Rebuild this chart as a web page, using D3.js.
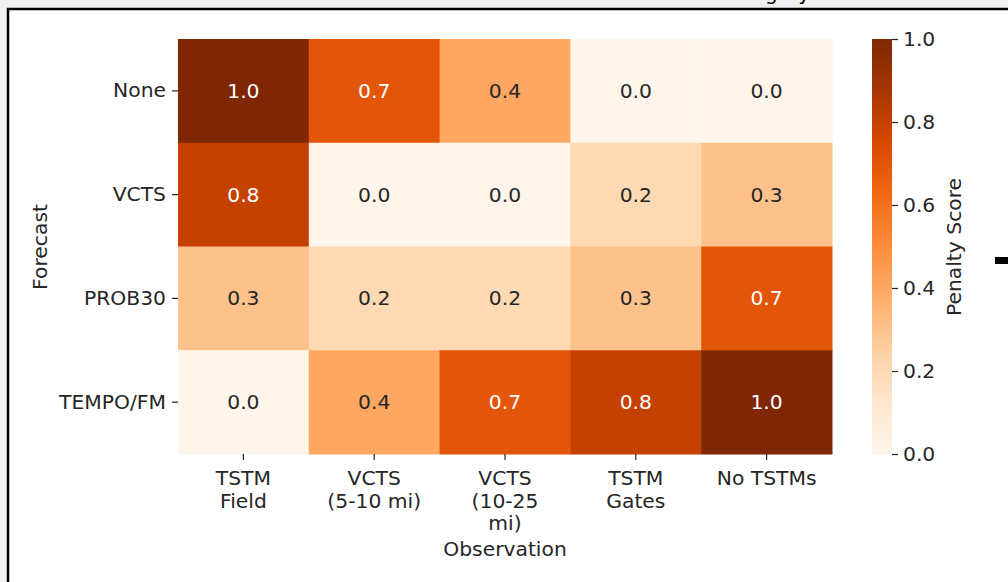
<!DOCTYPE html>
<html><head><meta charset="utf-8">
<script src="https://cdn.jsdelivr.net/npm/d3@7"></script>
<style>
html,body{margin:0;padding:0;background:#f0f0f0;}
svg{display:block;font-family:"DejaVu Sans",sans-serif;}
</style></head>
<body>
<svg id="chart" width="1008" height="582"></svg>
<script>
const forecasts = ["None", "VCTS", "PROB30", "TEMPO/FM"];
const observations = [["TSTM", "Field"], ["VCTS", "(5-10 mi)"], ["VCTS", "(10-25", "mi)"], ["TSTM", "Gates"], ["No TSTMs"]];
const valNone   = [1.0, 0.7, 0.4, 0.0, 0.0];
const valVCTS   = [0.8, 0.0, 0.0, 0.2, 0.3];
const valPROB30 = [0.3, 0.2, 0.2, 0.3, 0.7];
const valTEMPO  = [0.0, 0.4, 0.7, 0.8, 1.0];
const rows = [valNone, valVCTS, valPROB30, valTEMPO];
const cbTicks = [0.0, 0.2, 0.4, 0.6, 0.8, 1.0];
const orangeStops = ["#fff5eb","#fee6ce","#fdd0a2","#fdae6b","#fd8d3c","#f16913","#d94801","#a63603","#7f2704"];

const svg = d3.select("#chart");
const fs = 20.3;

// frame
svg.append("rect").attr("x", 8).attr("y", 9).attr("width", 1010).attr("height", 590)
  .attr("fill", "#fff").attr("stroke", "#000").attr("stroke-width", 2.5);
// partially visible title above frame
svg.append("text").attr("x", 810).attr("y", 0).attr("text-anchor", "end")
  .attr("font-size", 20).attr("fill", "#000").text("Category");
// dash at right
svg.append("rect").attr("x", 995).attr("y", 257).attr("width", 14).attr("height", 7).attr("fill", "#000");

const x = d3.scaleBand().domain(d3.range(observations.length)).range([178, 832]);
const y = d3.scaleBand().domain(forecasts).range([39, 454]);
const color = d3.scaleLinear().domain(d3.range(9).map(i => i / 8)).range(orangeStops).interpolate(d3.interpolateRgb);

const cells = [];
rows.forEach((r, i) => r.forEach((v, j) => cells.push({f: forecasts[i], j, v})));

svg.append("g").selectAll("rect").data(cells).join("rect")
  .attr("x", d => x(d.j)).attr("y", d => y(d.f))
  .attr("width", x.bandwidth() + 0.5).attr("height", y.bandwidth() + 0.5)
  .attr("fill", d => color(d.v));

function lum(c) {
  const rgb = d3.rgb(c);
  const f = u => { u /= 255; return u <= 0.03928 ? u / 12.92 : Math.pow((u + 0.055) / 1.055, 2.4); };
  return 0.2126 * f(rgb.r) + 0.7152 * f(rgb.g) + 0.0722 * f(rgb.b);
}
svg.append("g").selectAll("text").data(cells).join("text")
  .attr("x", d => x(d.j) + x.bandwidth() / 2).attr("y", d => y(d.f) + y.bandwidth() / 2)
  .attr("text-anchor", "middle").attr("dominant-baseline", "central")
  .attr("font-size", fs)
  .attr("fill", d => lum(color(d.v)) < 0.408 ? "#fff" : "#262626")
  .text(d => d.v.toFixed(1));

// y axis
const yAxis = svg.append("g").attr("transform", "translate(178,0)")
  .call(d3.axisLeft(y).tickSize(6).tickPadding(6));
yAxis.select(".domain").remove();
yAxis.selectAll("line").attr("stroke", "#262626").attr("stroke-width", 1.2);
yAxis.selectAll("text").attr("font-size", fs).attr("fill", "#262626").attr("font-family", "DejaVu Sans");

// x axis
const xAxis = svg.append("g").attr("transform", "translate(0,454)")
  .call(d3.axisBottom(x).tickSize(6).tickFormat(""));
xAxis.select(".domain").remove();
xAxis.selectAll("line").attr("stroke", "#262626").attr("stroke-width", 1.2);
xAxis.selectAll(".tick").each(function(d) {
  const t = d3.select(this).append("text").attr("text-anchor", "middle")
    .attr("font-size", fs).attr("fill", "#262626").attr("font-family", "DejaVu Sans");
  observations[d].forEach((line, k) => {
    t.append("tspan").attr("x", 0).attr("y", 31 + k * 22.5).text(line);
  });
});

svg.append("text").attr("x", 505).attr("y", 556).attr("text-anchor", "middle")
  .attr("font-size", fs).attr("fill", "#262626").text("Observation");
svg.append("text").attr("transform", "translate(47,247) rotate(-90)").attr("text-anchor", "middle")
  .attr("font-size", fs).attr("fill", "#262626").text("Forecast");

// colorbar
const defs = svg.append("defs");
const grad = defs.append("linearGradient").attr("id", "cbg").attr("x1", 0).attr("y1", 1).attr("x2", 0).attr("y2", 0);
orangeStops.forEach((c, i) => grad.append("stop").attr("offset", i / 8).attr("stop-color", c));
const cbY = d3.scaleLinear().domain([0, 1]).range([454, 39]);
svg.append("rect").attr("x", 872).attr("y", 39).attr("width", 20).attr("height", 415).attr("fill", "url(#cbg)");
const cbAxis = svg.append("g").attr("transform", "translate(892,0)")
  .call(d3.axisRight(cbY).tickValues(cbTicks).tickFormat(d3.format(".1f")).tickSize(6).tickPadding(5));
cbAxis.select(".domain").remove();
cbAxis.selectAll("line").attr("stroke", "#262626").attr("stroke-width", 1.2);
cbAxis.selectAll("text").attr("font-size", fs).attr("fill", "#262626").attr("font-family", "DejaVu Sans");
svg.append("text").attr("transform", "translate(961,247) rotate(-90)").attr("text-anchor", "middle")
  .attr("font-size", fs).attr("fill", "#262626").text("Penalty Score");
</script>
</body></html>
